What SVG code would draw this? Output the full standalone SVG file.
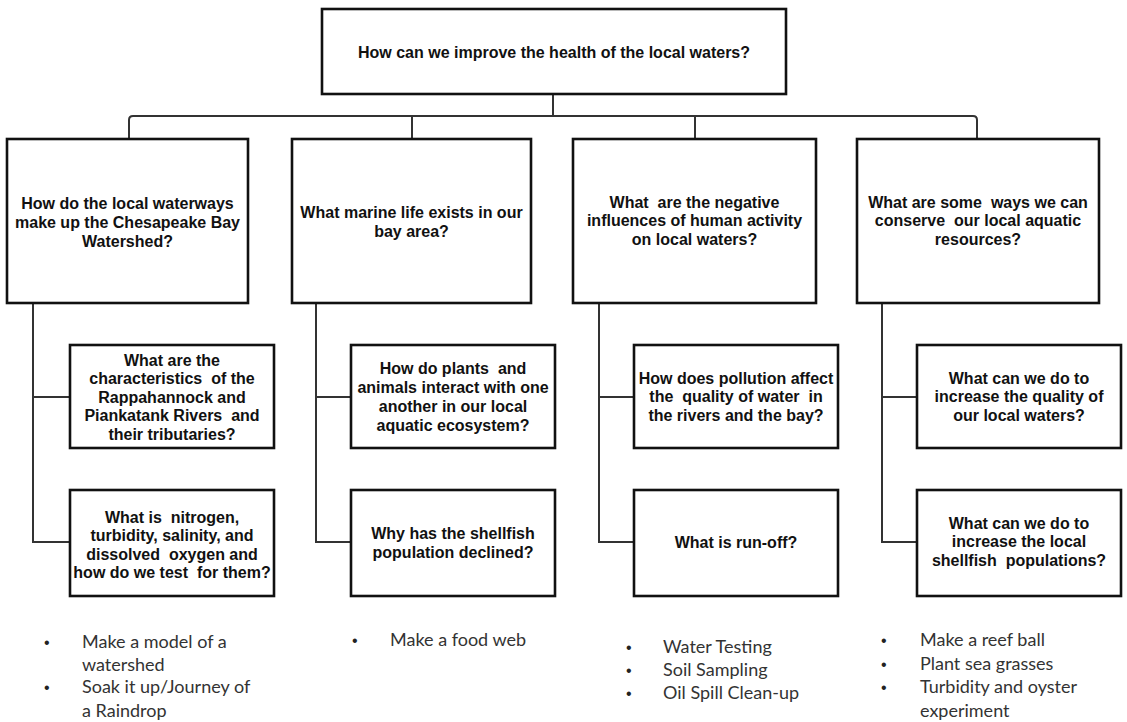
<svg xmlns="http://www.w3.org/2000/svg" width="1127" height="722" viewBox="0 0 1127 722">
<style>
.box{fill:#fff;stroke:#111;stroke-width:2.6}
.con{fill:none;stroke:#333;stroke-width:2}
.t{font-family:"Liberation Sans",Arial,sans-serif;font-size:16px;font-weight:bold;fill:#111;text-anchor:middle;white-space:pre}
.b{font-family:Lato,"Open Sans",sans-serif;font-size:18px;fill:#333}
.dot{font-family:"Liberation Sans",Arial,sans-serif;font-size:16px;fill:#222}
</style>
<rect width="1127" height="722" fill="#fff"/>
<g id="connectors">
<path class="con" d="M553 94V116"/>
<path class="con" d="M129 139V120Q129 116 133 116H973Q977 116 977 120V139"/>
<path class="con" d="M412 116V139M695 116V139"/>
<path class="con" d="M33 303V542H70M33 397H70"/>
<path class="con" d="M316 303V542H351M316 397H351"/>
<path class="con" d="M599 303V542H634M599 397H634"/>
<path class="con" d="M882 303V542H917M882 397H917"/>
</g>
<g id="root">
<rect class="box" x="322" y="9" width="464" height="85"/>
<text class="t" x="554" y="57.5">How can we improve the health of the local waters?</text>
</g>
<g id="q1">
<rect class="box" x="7" y="139" width="241" height="164"/>
<text class="t" x="127.5" y="208.5">How do the local waterways</text>
<text class="t" x="127.5" y="227.5">make up the Chesapeake Bay</text>
<text class="t" x="127.5" y="246.5">Watershed?</text>
</g>
<g id="q2">
<rect class="box" x="292" y="139" width="239" height="164"/>
<text class="t" x="411.5" y="217.5">What marine life exists in our</text>
<text class="t" x="411.5" y="236.5">bay area?</text>
</g>
<g id="q3">
<rect class="box" x="573" y="139" width="243" height="164"/>
<text class="t" x="694.5" y="207.5">What  are the negative</text>
<text class="t" x="694.5" y="226">influences of human activity</text>
<text class="t" x="694.5" y="244.5">on local waters?</text>
</g>
<g id="q4">
<rect class="box" x="857" y="139" width="242" height="164"/>
<text class="t" x="978" y="207.5">What are some  ways we can</text>
<text class="t" x="978" y="226">conserve  our local aquatic</text>
<text class="t" x="978" y="244.5">resources?</text>
</g>
<g id="q1a">
<rect class="box" x="70" y="345" width="204" height="103"/>
<text class="t" x="172" y="365.5">What are the</text>
<text class="t" x="172" y="384">characteristics  of the</text>
<text class="t" x="172" y="402.5">Rappahannock and</text>
<text class="t" x="172" y="421">Piankatank Rivers  and</text>
<text class="t" x="172" y="439.5">their tributaries?</text>
</g>
<g id="q1b">
<rect class="box" x="70" y="490" width="204" height="106"/>
<text class="t" x="172" y="522.5">What is  nitrogen,</text>
<text class="t" x="172" y="541">turbidity, salinity, and</text>
<text class="t" x="172" y="559.5">dissolved  oxygen and</text>
<text class="t" x="172" y="578">how do we test  for them?</text>
</g>
<g id="q2a">
<rect class="box" x="351" y="345" width="204" height="103"/>
<text class="t" x="453" y="373.5">How do plants  and</text>
<text class="t" x="453" y="392.5">animals interact with one</text>
<text class="t" x="453" y="411.5">another in our local</text>
<text class="t" x="453" y="431">aquatic ecosystem?</text>
</g>
<g id="q2b">
<rect class="box" x="351" y="490" width="204" height="106"/>
<text class="t" x="453" y="538.5">Why has the shellfish</text>
<text class="t" x="453" y="557.5">population declined?</text>
</g>
<g id="q3a">
<rect class="box" x="634" y="345" width="204" height="103"/>
<text class="t" x="736" y="383.5">How does pollution affect</text>
<text class="t" x="736" y="402">the  quality of water  in</text>
<text class="t" x="736" y="420.5">the rivers and the bay?</text>
</g>
<g id="q3b">
<rect class="box" x="634" y="490" width="204" height="106"/>
<text class="t" x="736" y="547.5">What is run-off?</text>
</g>
<g id="q4a">
<rect class="box" x="917" y="345" width="204" height="103"/>
<text class="t" x="1019" y="383.5">What can we do to</text>
<text class="t" x="1019" y="402">increase the quality of</text>
<text class="t" x="1019" y="420.5">our local waters?</text>
</g>
<g id="q4b">
<rect class="box" x="917" y="490" width="204" height="106"/>
<text class="t" x="1019" y="528.5">What can we do to</text>
<text class="t" x="1019" y="547">increase the local</text>
<text class="t" x="1019" y="565.5">shellfish  populations?</text>
</g>
<g id="activities1">
<text class="dot" x="44" y="648">•</text>
<text class="b" x="82" y="648">Make a model of a</text>
<text class="b" x="82" y="671">watershed</text>
<text class="dot" x="44" y="693">•</text>
<text class="b" x="82" y="693">Soak it up/Journey of</text>
<text class="b" x="82" y="717">a Raindrop</text>
</g>
<g id="activities2">
<text class="dot" x="352" y="646">•</text>
<text class="b" x="390" y="646">Make a food web</text>
</g>
<g id="activities3">
<text class="dot" x="626" y="653">•</text>
<text class="b" x="663" y="653">Water Testing</text>
<text class="dot" x="626" y="676">•</text>
<text class="b" x="663" y="676">Soil Sampling</text>
<text class="dot" x="626" y="699">•</text>
<text class="b" x="663" y="699">Oil Spill Clean-up</text>
</g>
<g id="activities4">
<text class="dot" x="881" y="646">•</text>
<text class="b" x="920" y="646">Make a reef ball</text>
<text class="dot" x="881" y="670">•</text>
<text class="b" x="920" y="670">Plant sea grasses</text>
<text class="dot" x="881" y="693">•</text>
<text class="b" x="920" y="693">Turbidity and oyster</text>
<text class="b" x="920" y="717">experiment</text>
</g>
</svg>
